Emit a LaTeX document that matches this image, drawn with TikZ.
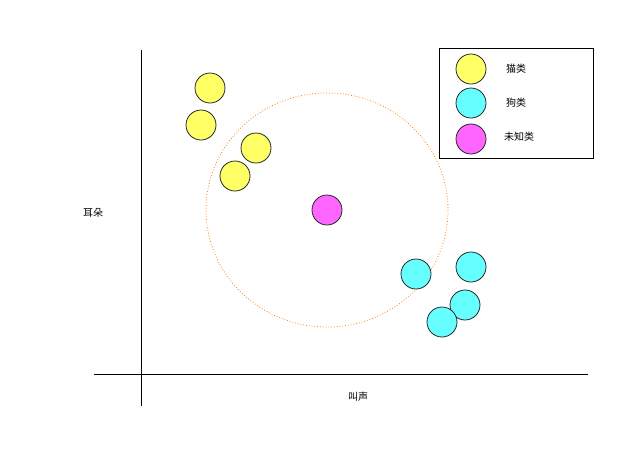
\documentclass[tikz,border=0pt]{standalone}
\usepackage{fontspec}
\newfontfamily\cjk{Noto Sans CJK SC}
\usepackage{tikz}
\definecolor{catc}{RGB}{255,255,102}
\definecolor{dogc}{RGB}{102,255,255}
\definecolor{unkc}{RGB}{255,102,255}
\begin{document}
\begin{tikzpicture}[x=1pt,y=-1pt]

	\tikzstyle{pt}=[draw=black!85,thick,circle,minimum size=30pt,inner sep=0pt]
	\tikzstyle{lbl}=[font=\cjk\fontsize{10}{12}\selectfont]

	\useasboundingbox (0,0) rectangle (630,448);

	% axes
	\coordinate (ytop) at (141,50);
	\coordinate (ybot) at (141,406);
	\coordinate (xl) at (94,374);
	\coordinate (xr) at (588,374);
	\draw[thick] (ytop) -- (ybot);
	\draw[thick] (xl) -- (xr);
	\node[lbl] (ylab) at (93,213) {耳朵};
	\node[lbl] (xlab) at (358,397) {叫声};

	% neighbourhood
	\draw[orange,thick,dotted] (327,210) ellipse (121 and 117);

	\node[pt,fill=catc] (c1) at (210,88) {};
	\node[pt,fill=catc] (c2) at (201,125) {};
	\node[pt,fill=catc] (c3) at (256,148) {};
	\node[pt,fill=catc] (c4) at (235,176) {};

	\node[pt,fill=dogc] (d1) at (416,274) {};
	\node[pt,fill=dogc] (d2) at (471,267) {};
	\node[pt,fill=dogc] (d3) at (465,305) {};
	\node[pt,fill=dogc] (d4) at (442,322) {};

	\node[pt,fill=unkc] (u) at (327,210) {};

	% legend
	\draw[thick] (439,48) rectangle (593,158);
	\node[pt,fill=catc] (lc) at (471,69) {};
	\node[pt,fill=dogc] (ld) at (471,103) {};
	\node[pt,fill=unkc] (lu) at (471,139) {};
	\node[lbl] (tc) at (516,69) {猫类};
	\node[lbl] (td) at (516,103) {狗类};
	\node[lbl] (tu) at (519,137) {未知类};

\end{tikzpicture}
\end{document}
